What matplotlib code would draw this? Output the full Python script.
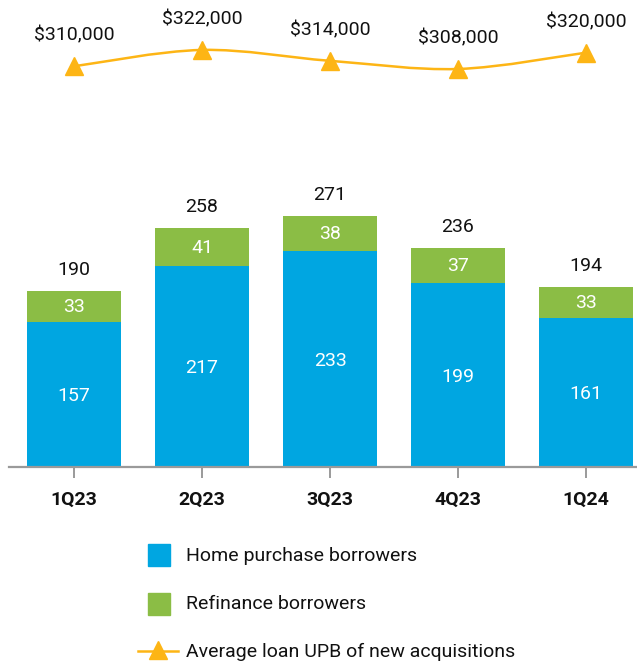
import matplotlib
matplotlib.use("Agg")
from matplotlib import pyplot as plt
from matplotlib.path import Path
from matplotlib.patches import PathPatch, Rectangle
from matplotlib.lines import Line2D
import numpy as np

plt.rcParams['font.family'] = ['Roboto', 'DejaVu Sans']

# Data
quarters = ['1Q23', '2Q23', '3Q23', '4Q23', '1Q24']
home_purchase = [157, 217, 233, 199, 161]
refinance = [33, 41, 38, 37, 33]
totals = [190, 258, 271, 236, 194]
avg_upb = [310, 322, 314, 308, 320]  # thousands of dollars
upb_labels = ['$310,000', '$322,000', '$314,000', '$308,000', '$320,000']

BLUE = '#00A6E1'
GREEN = '#8BBD45'
GOLD = '#FDB515'
GRAY = '#9A9A9A'
FS = 14

W, H = 637, 664
fig = plt.figure(figsize=(W / 100, H / 100), dpi=100)

def frac(x0, y0, x1, y1):
    # pixel box (top-left origin) -> figure fraction rect
    return [x0 / W, 1 - y1 / H, (x1 - x0) / W, (y1 - y0) / H]

x = np.arange(len(quarters))
xlim = (-0.508, 4.398)

# --- stacked bars ---
ax = fig.add_axes(frac(9, 189, 637, 467))
ax.bar(x, home_purchase, width=0.734, color=BLUE)
ax.bar(x, refinance, width=0.734, bottom=home_purchase, color=GREEN)
ax.set_xlim(*xlim)
ax.set_ylim(0, 300)
for i in range(len(x)):
    ax.text(x[i], home_purchase[i] / 2 - 2, str(home_purchase[i]), ha='center', va='center',
            color='white', fontsize=FS)
    ax.text(x[i], home_purchase[i] + refinance[i] / 2 - 1, str(refinance[i]), ha='center',
            va='center', color='white', fontsize=FS)
    ax.annotate(str(totals[i]), (x[i], totals[i]), xytext=(0, 15), textcoords='offset points',
                ha='center', va='center', fontsize=FS, color='#111111')

for s in ['top', 'right', 'left']:
    ax.spines[s].set_visible(False)
ax.spines['bottom'].set_color(GRAY)
ax.spines['bottom'].set_linewidth(1.6)
ax.set_yticks([])
ax.set_xticks(x)
ax.set_xticklabels(quarters, fontsize=FS, fontweight='bold', color='#111111')
ax.tick_params(axis='x', length=8, width=1.4, color=GRAY, pad=9)

# --- average loan UPB line ---
ax2 = fig.add_axes(frac(9, 0, 637, 100))
ax2.set_xlim(*xlim)
ax2.set_ylim(285.2, 358.7)
ax2.axis('off')

# smooth curve through the points (Catmull-Rom as cubic Bezier segments)
pts = np.column_stack([x, avg_upb]).astype(float)
verts = [tuple(pts[0])]
codes = [Path.MOVETO]
for i in range(len(pts) - 1):
    p0 = pts[i - 1] if i > 0 else pts[i]
    p1, p2 = pts[i], pts[i + 1]
    p3 = pts[i + 2] if i + 2 < len(pts) else pts[i + 1]
    c1 = p1 + (p2 - p0) / 6
    c2 = p2 - (p3 - p1) / 6
    verts += [tuple(c1), tuple(c2), tuple(p2)]
    codes += [Path.CURVE4] * 3
ax2.add_patch(PathPatch(Path(verts, codes), fill=False, edgecolor=GOLD, lw=1.8))
ax2.plot(x, avg_upb, linestyle='none', marker='^', markersize=13, color=GOLD)
for i in range(len(x)):
    ax2.annotate(upb_labels[i], (x[i], avg_upb[i]), xytext=(0, 22), textcoords='offset points',
                 ha='center', va='center', fontsize=FS, color='#111111')

# --- legend drawn by hand ---
fig.add_artist(Rectangle((148 / W, 1 - 566 / H), 22 / W, 22 / H, color=BLUE,
                         transform=fig.transFigure))
fig.add_artist(Rectangle((148 / W, 1 - 615 / H), 22 / W, 22 / H, color=GREEN,
                         transform=fig.transFigure))
fig.add_artist(Line2D([138 / W, 178 / W], [1 - 651 / H] * 2, color=GOLD, lw=1.8,
                      transform=fig.transFigure))
fig.add_artist(Line2D([158 / W], [1 - 650 / H], marker='^', markersize=13, color=GOLD,
                      transform=fig.transFigure))
legend_names = ['Home purchase borrowers', 'Refinance borrowers',
                'Average loan UPB of new acquisitions']
for name, yy in zip(legend_names, [556, 604, 652]):
    fig.text(186 / W, 1 - yy / H, name, ha='left', va='center', fontsize=FS, color='#111111')

fig.savefig('out.png', dpi=100)
